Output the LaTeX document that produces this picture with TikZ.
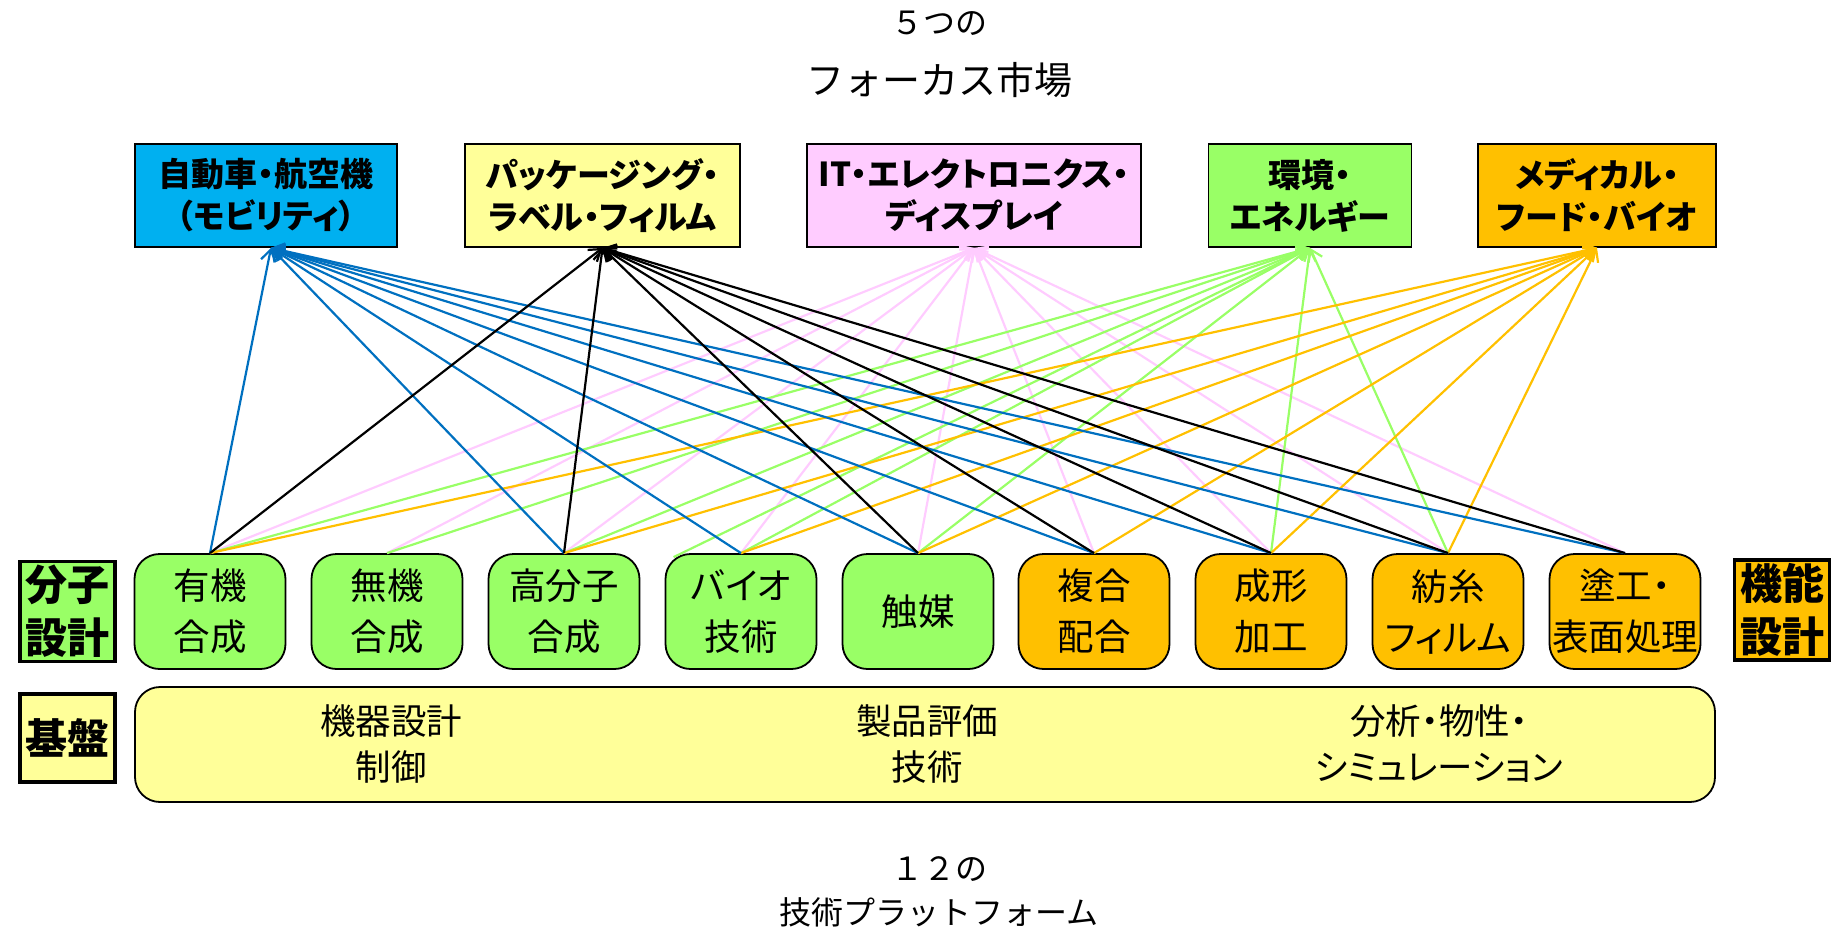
\documentclass[tikz,border=0pt]{standalone}
\usepackage{fontspec}
\newfontfamily\jp[RawFeature=+palt]{Noto Sans CJK JP}
\newfontfamily\jpm{Noto Sans CJK JP}
\usetikzlibrary{arrows.meta}
\definecolor{cblue}{HTML}{0070C0}
\definecolor{ccyan}{HTML}{00B0F0}
\definecolor{cyel}{HTML}{FFFF99}
\definecolor{cpink}{HTML}{FFCCFF}
\definecolor{cgreen}{HTML}{99FF66}
\definecolor{corange}{HTML}{FFC000}
\begin{document}
\begin{tikzpicture}[x=1pt,y=-1pt,
  market/.style={draw=black,line width=1.8pt,minimum height=103pt,inner sep=0pt,align=center,
    font=\jp\bfseries\fontsize{33}{42}\selectfont},
  tech/.style={draw=black,line width=1.8pt,rounded corners=25pt,minimum width=151pt,minimum height=115pt,
    inner sep=0pt,align=center,font=\jp\fontsize{36.5}{51}\selectfont},
  label/.style={draw=black,line width=3.5pt,minimum width=95pt,inner sep=0pt,align=center,
    font=\jp\bfseries\fontsize{42}{53}\selectfont},
  basetext/.style={align=center,inner sep=0pt,font=\jp\fontsize{35.5}{46}\selectfont},
  title/.style={inner sep=0pt,font=\jpm\fontsize{32}{40}\selectfont},
  conn/.style={line width=2.2pt,-{Straight Barb[length=11pt,width=15pt,line width=2.2pt]}}
]
\useasboundingbox (0,0) rectangle (1841,937);
% titles
\node[title] (t1a) at (939,23) {５つの};
\node[title,font=\jpm\fontsize{38}{40}\selectfont] (t1b) at (939,80) {フォーカス市場};
\node[title] (t2a) at (939,869) {１２の};
\node[title] (t2b) at (939,912) {技術プラットフォーム};
% markets
\node[market,fill=ccyan,minimum width=262pt] (car) at (266,195.5) {自動車・航空機\\（モビリティ）};
\node[market,fill=cyel,minimum width=275pt] (pkg) at (602.5,195.5) {パッケージング・\\ラベル・フィルム};
\node[market,fill=cpink,minimum width=334pt] (it) at (974,195.5) {IT・エレクトロニクス・\\ディスプレイ};
\node[market,fill=cgreen,minimum width=203pt] (env) at (1310,195.5) {環境・\\エネルギー};
\node[market,fill=corange,minimum width=238pt] (med) at (1597,195.5) {メディカル・\\フード・バイオ};
% technologies
\node[tech,fill=cgreen] (o1) at (210,611.5) {有機\\合成};
\node[tech,fill=cgreen] (o2) at (387,611.5) {無機\\合成};
\node[tech,fill=cgreen] (o3) at (564,611.5) {高分子\\合成};
\node[tech,fill=cgreen] (o4) at (741,611.5) {バイオ\\技術};
\node[tech,fill=cgreen] (o5) at (918,611.5) {触媒};
\node[tech,fill=corange] (o6) at (1094,611.5) {複合\\配合};
\node[tech,fill=corange] (o7) at (1271,611.5) {成形\\加工};
\node[tech,fill=corange] (o8) at (1448,611.5) {紡糸\\フィルム};
\node[tech,fill=corange] (o9) at (1625,611.5) {塗工・\\表面処理};
% labels
\node[label,fill=cgreen,minimum height=100pt] (lmol) at (67.5,611.5) {分子\\設計};
\node[label,fill=corange,minimum height=100pt] (lfun) at (1782,610) {機能\\設計};
\node[label,fill=cyel,minimum height=88pt] (lbase) at (67.5,738) {基盤};
% base
\node[draw=black,line width=1.8pt,fill=cyel,rounded corners=25pt,minimum width=1580pt,minimum height=115pt,inner sep=0pt] (base) at (925,744.5) {};
\node[basetext] (b1) at (391,744) {機器設計\\制御};
\node[basetext] (b2) at (927,744) {製品評価\\技術};
\node[basetext] (b3) at (1439,744) {分析・物性・\\シミュレーション};
% connector endpoints
\coordinate (cartip) at ([xshift=5pt]car.south);
\coordinate (bioc) at ([xshift=9pt,yshift=-4pt]o4.north west);
% connectors
\foreach \s in {o1,o2,o3,o4,o5,o6,o7,o8,o9} \draw[conn,cpink] (\s.north) -- (it.south);
\foreach \s in {o1,o2,o3,o4,o5,o7,o8} \draw[conn,cgreen] (\s.north) -- (env.south);
\draw[conn,cgreen] (bioc) -- (env.south);
\foreach \s in {o1,o3,o4,o5,o6,o7,o8} \draw[conn,corange] (\s.north) -- (med.south);
\foreach \s in {o1,o3,o4,o5,o6,o7,o8,o9} \draw[conn,cblue] (\s.north) -- (cartip);
\foreach \s in {o1,o3,o5,o6,o7,o8,o9} \draw[conn,black] (\s.north) -- (pkg.south);
\end{tikzpicture}
\end{document}
